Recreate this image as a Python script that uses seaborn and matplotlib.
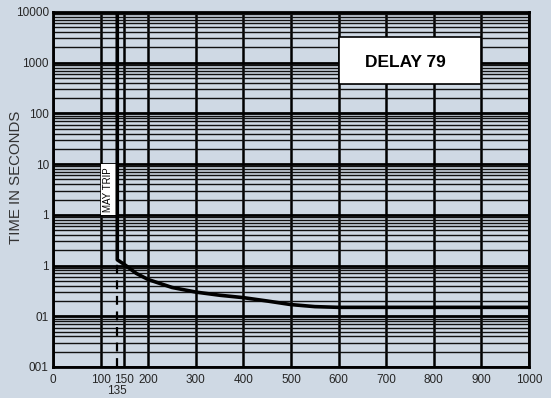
import matplotlib
matplotlib.use("Agg")
import matplotlib.pyplot as plt
import matplotlib.transforms as mtransforms
from matplotlib.ticker import LogLocator, NullFormatter
import pandas as pd
import seaborn as sns

# trip curve (amps in %, time in seconds)
amps = [135, 135, 150, 175, 200, 250, 300, 350, 400, 450, 500, 550, 600, 700, 800, 900, 1000]
secs = [10000, 0.13, 0.105, 0.07, 0.053, 0.037, 0.030, 0.026, 0.0233, 0.020, 0.017, 0.0155, 0.015, 0.015, 0.015, 0.015, 0.015]

x_ticks = [0, 100, 150, 200, 300, 400, 500, 600, 700, 800, 900, 1000]
y_ticks = [0.001, 0.01, 0.1, 1, 10, 100, 1000, 10000]
y_labels = ["001", "01", "1", "1", "10", "100", "1000", "10000"]

may_trip_x = 135
box_label = "DELAY 79"

bg = "#cfd9e4"
sns.set_style("white")
plt.rcParams["font.family"] = ["Liberation Sans", "DejaVu Sans"]

fig = plt.figure(figsize=(5.51, 3.98), dpi=100, facecolor=bg)
ax = fig.add_axes([0.0962, 0.0779, 0.864, 0.892])
ax.set_facecolor(bg)

df = pd.DataFrame({"amps": amps, "secs": secs})
sns.lineplot(data=df, x="amps", y="secs", sort=False, estimator=None,
             color="black", lw=2.6, ax=ax, zorder=5)

ax.set_yscale("log")
ax.set_xlim(0, 1000)
ax.set_ylim(0.001, 10000)

ax.set_xticks(x_ticks)
ax.set_xticklabels([str(t) for t in x_ticks])
ax.set_yticks(y_ticks)
ax.set_yticklabels(y_labels)
ax.yaxis.set_minor_locator(LogLocator(base=10, subs=range(2, 10), numticks=100))
ax.yaxis.set_minor_formatter(NullFormatter())
ax.tick_params(which="both", length=0, labelsize=8.5, labelcolor="#262626")
ax.tick_params(axis="y", pad=3)
ax.tick_params(axis="x", pad=5)

ax.grid(True, which="major", axis="x", color="black", lw=1.8)
ax.grid(True, which="major", axis="y", color="black", lw=2.0)
ax.grid(True, which="minor", axis="y", color="#111111", lw=1.0)
ax.set_axisbelow(True)
for s in ax.spines.values():
    s.set_color("black")
    s.set_linewidth(2)

# dashed line at 135 up to the curve
ax.plot([may_trip_x, may_trip_x], [0.001, 0.12], color="black", lw=1.6, ls=(0, (4, 3)), zorder=4)
trans = mtransforms.blended_transform_factory(ax.transData, ax.transAxes)
ax.text(may_trip_x, -0.068, "135", transform=trans, ha="center", va="center",
        fontsize=8.5, color="#262626")

# MAY TRIP box
ax.fill_between([101, 132], [1, 1], [10, 10], color="white", zorder=3, lw=0)
ax.text(116.5, 3.2, "MAY TRIP", rotation=90, ha="center", va="center",
        fontsize=7, color="black", zorder=6)

# DELAY 79 box
ax.fill_between([600, 900], [380, 380], [3200, 3200], facecolor="white",
                edgecolor="black", lw=1.2, zorder=3)
ax.text(740, 1000, box_label, ha="center", va="center", fontsize=12.5,
        fontweight="bold", color="black", zorder=6)

ax.set_xlabel("")
ax.set_ylabel("TIME IN SECONDS", fontsize=10.8, color="#333333")
ax.yaxis.set_label_coords(-0.078, 0.534)
ax.yaxis.label.set_va("center")

fig.savefig("out.png", dpi=100, facecolor=bg)
